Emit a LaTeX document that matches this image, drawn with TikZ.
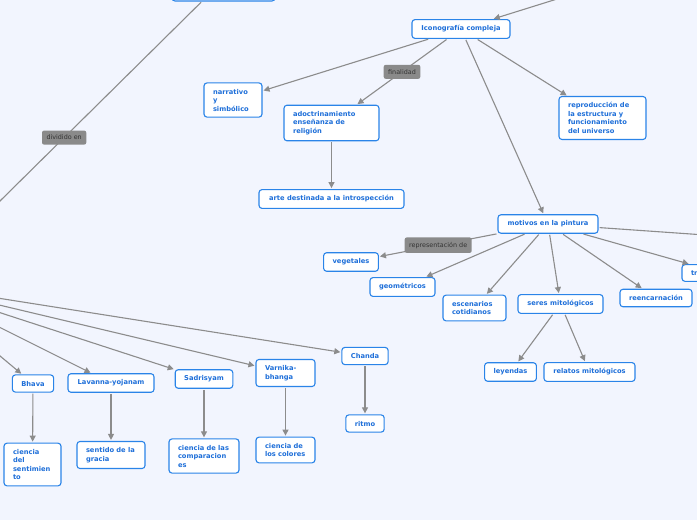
\documentclass[tikz,border=0pt]{standalone}
\usepackage{fontspec}
\setmainfont{DejaVu Sans}
\definecolor{mapblue}{HTML}{2A84E8}
\definecolor{maptext}{HTML}{1E6FD9}
\definecolor{mapgray}{HTML}{8C8C8C}
\definecolor{mapbg}{HTML}{F2F5FE}
\definecolor{labelgray}{HTML}{8A8A8A}
\definecolor{labeltext}{HTML}{333333}
\usetikzlibrary{arrows.meta}
\tikzset{
    concept/.style={
        draw=mapblue,
        fill=white,
        rounded corners=3pt,
        line width=1.1pt,
        inner xsep=9pt,
        inner ysep=6pt,
        text=maptext,
        font=\fontsize{6.7}{8.5}\selectfont\bfseries
    },
    conceptmulti/.style={
        concept,
        align=left
    },
    linklabel/.style={
        fill=labelgray,
        rounded corners=2pt,
        text=labeltext,
        inner xsep=4.5pt,
        inner ysep=4.5pt,
        font=\fontsize{6.4}{7}\selectfont
    },
    conceptarrow/.style={
        -{Triangle[length=6pt,width=6pt]},
        draw=mapgray,
        line width=1.1pt,
        shorten >=1pt,
        shorten <=1pt
    }
}

\begin{document}
\begin{tikzpicture}[x=1pt,y=-1pt]
        \useasboundingbox (0,0) rectangle (697,520);
        \fill[mapbg] (0,0) rectangle (697,520);
        \clip (0,0) rectangle (697,520);

        \coordinate (hub) at (-85,285);
        \coordinate (upright) at (650,-30);
        \coordinate (offright) at (848,245);

        \node[concept,minimum width=103pt,minimum height=42pt] (topbox) at (223.5,-20) {};
        \node[concept,minimum width=98pt] (icono) at (461,29) {Iconografía compleja};
        \node[conceptmulti,text width=40pt] (narrativo) at (233,100)
            {narrativo\\y\\simbólico};
        \node[conceptmulti,text width=77pt] (adoctrina) at (331.5,123)
            {adoctrinamiento\\enseñanza de\\religión};
        \node[concept,minimum width=145pt] (arte) at (331.5,199)
            {arte destinada a la introspección};
        \node[conceptmulti,text width=69pt] (reproduce) at (602.5,118)
            {reproducción de\\la estructura y\\funcionamiento\\del universo};

        \node[concept,minimum width=100pt] (motivos) at (548,224) {motivos en la pintura};
        \node[concept,minimum width=54pt] (vegetales) at (351,262) {vegetales};
        \node[concept,minimum width=65pt] (geometricos) at (402.5,287) {geométricos};
        \node[conceptmulti,text width=45pt] (escenarios) at (474.5,308)
            {escenarios\\cotidianos};
        \node[concept,minimum width=85pt] (seres) at (560.5,304) {seres mitológicos};
        \node[concept,minimum width=72pt] (reencarna) at (656,298) {reencarnación};
        \node[conceptmulti,text width=60pt] (trnode) at (721,273) {tr};
        \node[concept,minimum width=51pt] (leyendas) at (510.5,372) {leyendas};
        \node[concept,minimum width=91pt] (relatos) at (589.5,372) {relatos mitológicos};

        \node[concept,minimum width=40pt] (bhava) at (33,383.5) {Bhava};
        \node[concept,minimum width=86pt] (lavanna) at (111,383) {Lavanna-yojanam};
        \node[concept,minimum width=56pt] (sadrisyam) at (204,379) {Sadrisyam};
        \node[conceptmulti,text width=41pt] (varnika) at (285.5,373) {Varnika-\\bhanga};
        \node[concept,minimum width=46pt] (chanda) at (365,356) {Chanda};

        \node[conceptmulti,text width=39pt] (sentimiento) at (32.5,464.5)
            {ciencia\\del\\sentimien\\to};
        \node[conceptmulti,text width=50pt] (gracia) at (111,455)
            {sentido de la\\gracia};
        \node[conceptmulti,text width=52pt] (comparacion) at (204,456)
            {ciencia de las\\comparacion\\es};
        \node[conceptmulti,text width=41pt] (colores) at (285.5,450)
            {ciencia de\\los colores};
        \node[concept,minimum width=38pt] (ritmo) at (365,423.5) {ritmo};

        \draw[conceptarrow] (topbox) -- node[linklabel,pos=.48] {dividido en} (hub);
        \draw[conceptarrow] (upright) -- (icono);
        \draw[conceptarrow] (icono) -- (narrativo);
        \draw[conceptarrow] (icono) -- node[linklabel] {finalidad} (adoctrina);
        \draw[conceptarrow] (icono) -- (motivos);
        \draw[conceptarrow] (icono) -- (reproduce);
        \draw[conceptarrow] (adoctrina) -- (arte);

        \draw[conceptarrow] (motivos) -- node[linklabel] {representación de} (vegetales);
        \draw[conceptarrow] (motivos) -- (geometricos);
        \draw[conceptarrow] (motivos) -- (escenarios);
        \draw[conceptarrow] (motivos) -- (seres);
        \draw[conceptarrow] (motivos) -- (reencarna);
        \draw[conceptarrow] (motivos) -- (trnode);
        \draw[conceptarrow] (motivos) -- (offright);
        \draw[conceptarrow] (seres) -- (leyendas);
        \draw[conceptarrow] (seres) -- (relatos);

        \draw[conceptarrow] (hub) -- (bhava);
        \draw[conceptarrow] (hub) -- (lavanna);
        \draw[conceptarrow] (hub) -- (sadrisyam);
        \draw[conceptarrow] (hub) -- (varnika);
        \draw[conceptarrow] (hub) -- (chanda);
        \draw[conceptarrow] (bhava) -- (sentimiento);
        \draw[conceptarrow] (lavanna) -- (gracia);
        \draw[conceptarrow] (sadrisyam) -- (comparacion);
        \draw[conceptarrow] (varnika) -- (colores);
        \draw[conceptarrow] (chanda) -- (ritmo);
    \end{tikzpicture}
\end{document}
